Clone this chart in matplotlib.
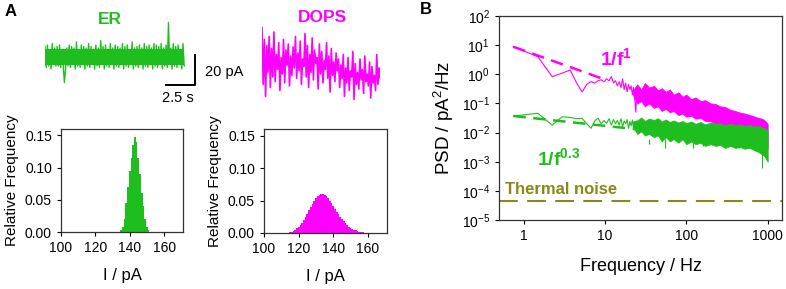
import matplotlib
matplotlib.use("Agg")
import matplotlib.pyplot as plt
import numpy as np

plt.rcParams['font.family'] = ['Liberation Sans', 'DejaVu Sans']
plt.rcParams['mathtext.fontset'] = 'custom'
plt.rcParams['mathtext.rm'] = 'Liberation Sans'
plt.rcParams['mathtext.it'] = 'Liberation Sans:italic'
plt.rcParams['mathtext.bf'] = 'Liberation Sans:bold'
plt.rcParams['mathtext.default'] = 'regular'

GREEN = '#1fbe1f'
MAGENTA = '#ff00ff'
OLIVE = '#88881c'

# ---- current traces (pA) ----
er_trace = [149, 135, 150, 136, 147, 134, 151, 137, 148, 136, 149, 136, 150, 135, 147, 137, 125, 134, 148, 136,
            150, 135, 149, 137, 148, 134, 152, 136, 147, 135, 150, 137, 149, 134, 148, 136, 151, 135, 149, 137,
            147, 134, 150, 136, 148, 135, 153, 137, 149, 134, 150, 136, 147, 135, 151, 137, 148, 134, 150, 136,
            149, 135, 148, 137, 151, 134, 149, 136, 150, 135, 147, 137, 152, 134, 148, 136, 149, 135, 150, 137,
            148, 134, 151, 136, 149, 135, 150, 137, 148, 134, 151, 136, 150, 135, 149, 137, 151, 134, 148, 136,
            150, 135, 165, 137, 148, 134, 151, 136, 149, 135, 150, 137, 147, 134, 151, 136]
er_core = (136.5, 147.5)   # solid part of the ER band
dops_trace = [158, 120, 150, 112, 146, 128, 152, 118, 144, 125, 155, 122, 140, 130, 148, 116, 138, 127, 150, 121,
              143, 133, 147, 119, 139, 126, 145, 131, 152, 124,
              141, 129, 149, 120, 137, 132, 154, 125, 146, 118, 140, 128, 151, 123, 143, 134, 138, 117, 147, 127,
              142, 121, 136, 130, 148, 124, 139, 115, 144, 126, 135, 122, 141, 129, 137,
              118, 133, 124, 140, 112, 131, 121, 138, 116, 129, 125, 142, 110, 134, 120, 128, 117, 137, 123, 130,
              114, 139, 122, 127, 119, 135, 111, 132, 121, 126, 116, 140, 120, 131, 124]
er_duration = 12.0     # s
dops_duration = 10.2   # s

# ---- histograms (1 pA bins) ----
er_bins = list(range(135, 152))
er_freq = [0.003, 0.008, 0.02, 0.045, 0.07, 0.095, 0.115, 0.135, 0.147, 0.14,
           0.115, 0.09, 0.06, 0.04, 0.02, 0.008, 0.003]
dops_bins = list(range(115, 158))
dops_freq = [0.001, 0.002, 0.003, 0.005, 0.007, 0.009, 0.012, 0.016, 0.02, 0.025,
             0.03, 0.035, 0.04, 0.045, 0.05, 0.054, 0.057, 0.059, 0.06, 0.06,
             0.059, 0.057, 0.054, 0.05, 0.046, 0.042, 0.037, 0.033, 0.029, 0.025,
             0.021, 0.018, 0.015, 0.012, 0.01, 0.008, 0.006, 0.005, 0.004, 0.003,
             0.002, 0.001, 0.001]

# ---- PSD ----
df = 0.75  # Hz resolution
dops_psd_low = [8.8, 4.0, 0.83, 1.1, 1.4, 0.5, 0.25, 0.45, 0.56, 0.5, 0.6, 0.65, 0.55, 0.7, 0.6,
                0.83, 0.5, 0.6, 0.4, 0.55, 0.35, 0.7, 0.3, 0.5, 0.25, 0.45, 0.3, 0.4, 0.2, 0.35,
                0.15, 0.05, 0.3, 0.2]
er_psd_low = [0.037, 0.046, 0.018, 0.035, 0.033, 0.03, 0.031, 0.02, 0.014, 0.025, 0.031, 0.02,
              0.026, 0.021, 0.03, 0.018, 0.028, 0.02, 0.026, 0.018, 0.03, 0.016, 0.025, 0.02,
              0.028, 0.014, 0.024, 0.017, 0.027, 0.015, 0.022, 0.013, 0.025]
band_f = [22, 25, 28, 31, 35, 40, 45, 50, 56, 63, 70, 80, 90, 100, 115, 130, 150, 170, 200, 230,
          260, 300, 350, 400, 460, 520, 600, 680, 760, 850, 920, 1000]
dops_hi = [0.28, 0.45, 0.3, 0.5, 0.35, 0.4, 0.28, 0.33, 0.25, 0.3, 0.2, 0.24, 0.17, 0.2, 0.14, 0.16,
           0.12, 0.13, 0.1, 0.095, 0.08, 0.075, 0.06, 0.055, 0.048, 0.045, 0.04, 0.036, 0.032, 0.03,
           0.026, 0.02]
dops_lo = [0.2, 0.1, 0.12, 0.08, 0.1, 0.07, 0.08, 0.055, 0.065, 0.05, 0.055, 0.04, 0.045, 0.035,
           0.038, 0.03, 0.032, 0.025, 0.024, 0.02, 0.02, 0.016, 0.015, 0.012, 0.012, 0.01, 0.009,
           0.008, 0.007, 0.006, 0.005, 0.003]
er_hi = [0.024, 0.026, 0.033, 0.025, 0.03, 0.027, 0.031, 0.024, 0.028, 0.023, 0.026, 0.022, 0.025,
         0.021, 0.024, 0.02, 0.023, 0.019, 0.022, 0.02, 0.021, 0.018, 0.02, 0.018, 0.019, 0.017,
         0.018, 0.016, 0.017, 0.015, 0.014, 0.012]
er_lo = [0.016, 0.009, 0.011, 0.008, 0.009, 0.007, 0.008, 0.005, 0.007, 0.005, 0.006, 0.0045,
         0.006, 0.004, 0.005, 0.004, 0.0045, 0.0035, 0.004, 0.0035, 0.0038, 0.003, 0.0035, 0.003,
         0.0032, 0.0028, 0.003, 0.0025, 0.0022, 0.0018, 0.0015, 0.001]
er_spike_f = [35, 55, 120, 160, 300, 450, 860]
er_spike_v = [0.004, 0.003, 0.003, 0.0035, 0.003, 0.003, 0.0006]
dops_fit = (0.75, 10, 8.8, 1.0)    # f_start, f_end, psd at start, exponent
er_fit = (0.75, 27, 0.037, 0.3)
thermal = 4.5e-5

W, H = 786, 289
fig = plt.figure(figsize=(W / 100, H / 100), dpi=100)


def px_axes(l, t, r, b):
    return fig.add_axes([l / W, 1 - b / H, (r - l) / W, (b - t) / H])


def px_text(x, y, s, **kw):
    fig.text(x / W, 1 - y / H, s, **kw)


# ---- traces ----
px_per_s, px_per_pA = 11.6, 1.5
ax_er = px_axes(45, 10, 200, 100)
t = np.linspace(0, er_duration, len(er_trace))
ax_er.fill_between([0, er_duration], er_core[0], er_core[1], color=GREEN, linewidth=0)
ax_er.plot(t, er_trace, color=GREEN, lw=1.0)
ax_er.set_xlim(0, 155 / px_per_s)
ax_er.set_ylim(142 - 43 / px_per_pA, 142 + 47 / px_per_pA)
ax_er.axis('off')
bar_x = 150 / px_per_s
bar_y = 142 - 28 / px_per_pA
ax_er.plot([bar_x - 2.5, bar_x, bar_x], [bar_y, bar_y, bar_y + 20], color='black', lw=1.4, clip_on=False)

ax_dops = px_axes(262, 10, 380, 105)
t = np.linspace(0, dops_duration, len(dops_trace))
ax_dops.plot(t, dops_trace, color=MAGENTA, lw=1.2)
ax_dops.set_xlim(0, 118 / px_per_s)
ax_dops.set_ylim(135 - 43 / px_per_pA, 135 + 52 / px_per_pA)
ax_dops.axis('off')


def style(ax):
    for s in ax.spines.values():
        s.set_color('#333333')
        s.set_linewidth(0.9)
    ax.tick_params(direction='out', length=3, width=0.8, labelsize=10, top=False, right=False)


# ---- histograms ----
for box, bins, freq, col in [((61, 129, 183, 232), er_bins, er_freq, GREEN),
                             ((264, 129, 387, 233), dops_bins, dops_freq, MAGENTA)]:
    ax = px_axes(*box)
    ax.bar(bins, freq, width=1.0, color=col, linewidth=0)
    ax.set_xlim(100, 171)
    ax.set_ylim(0, 0.16)
    ax.set_xticks([100, 120, 140, 160])
    ax.set_yticks([0, 0.05, 0.10, 0.15])
    ax.set_yticklabels(['0.00', '0.05', '0.10', '0.15'])
    ax.set_ylabel('Relative Frequency', fontsize=11, labelpad=4)
    ax.set_xlabel('I / pA', fontsize=12, labelpad=9)
    style(ax)

# ---- PSD ----
ax = px_axes(499, 16, 782, 220)
f_low = df * np.arange(1, len(dops_psd_low) + 1)
ax.fill_between(band_f, dops_lo, dops_hi, color=MAGENTA, linewidth=0.6, edgecolor=MAGENTA)
ax.plot(f_low, dops_psd_low, color=MAGENTA, lw=0.8)
f_low = df * np.arange(1, len(er_psd_low) + 1)
ax.fill_between(band_f, er_lo, er_hi, color=GREEN, linewidth=0.6, edgecolor=GREEN)
ax.plot(f_low, er_psd_low, color=GREEN, lw=0.8)
ax.vlines(er_spike_f, er_spike_v, 0.006, color=GREEN, lw=0.8)
for (f0, f1, p0, k), col in [(dops_fit, MAGENTA), (er_fit, GREEN)]:
    ff = np.array([f0, f1])
    ax.plot(ff, p0 * (ff / f0) ** (-k), color=col, lw=1.8, dashes=(5, 3))
ax.axhline(thermal, color=OLIVE, lw=1.5, dashes=(9, 4.5))
ax.set_xscale('log')
ax.set_yscale('log')
ax.set_xlim(0.5, 1500)
ax.set_ylim(1e-5, 1e2)
ax.set_xticks([1, 10, 100, 1000])
ax.set_xticklabels(['1', '10', '100', '1000'])
ax.set_yticks([10.0 ** k for k in range(-5, 3)])
ax.minorticks_off()
ax.set_ylabel('PSD / pA$^2$/Hz', fontsize=13.5, labelpad=4)
ax.set_xlabel('Frequency / Hz', fontsize=13, labelpad=11)
style(ax)

# ---- annotations ----
px_text(5, 12, 'A', fontsize=12, fontweight='bold', va='center')
px_text(420, 10, 'B', fontsize=12, fontweight='bold', va='center')
px_text(110, 20, 'ER', fontsize=12.5, fontweight='bold', color=GREEN, ha='center', va='center')
px_text(322, 18, 'DOPS', fontsize=12.5, fontweight='bold', color=MAGENTA, ha='center', va='center')
px_text(205, 72, '20 pA', fontsize=10.5, va='center')
px_text(178, 98, '2.5 s', fontsize=10.5, ha='center', va='center')
px_text(600, 58, r'$\mathbf{1/f^{1}}$', fontsize=14, color=MAGENTA, va='center')
px_text(537, 158, r'$\mathbf{1/f^{0.3}}$', fontsize=14, color=GREEN, va='center')
px_text(505, 189, 'Thermal noise', fontsize=12, fontweight='bold', color=OLIVE, va='center')

fig.savefig('out.png', dpi=100)
